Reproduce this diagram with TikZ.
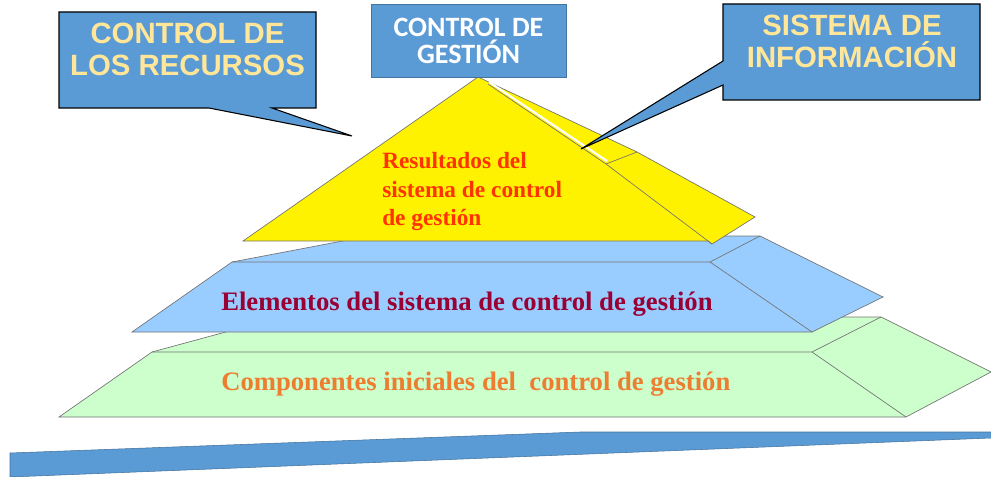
\documentclass[tikz,border=0pt]{standalone}
\usepackage{fontspec}
\setmainfont{Liberation Serif}
\setsansfont{Liberation Sans}
\newfontfamily\carlito{Carlito}
\usepackage{xcolor}
\definecolor{boxblue}{RGB}{91,155,213}
\definecolor{boxedge}{RGB}{65,113,156}
\definecolor{capyellow}{RGB}{255,230,153}
\definecolor{layerblue}{RGB}{153,204,255}
\definecolor{layergreen}{RGB}{204,255,204}
\definecolor{resred}{RGB}{255,51,0}
\definecolor{elemred}{RGB}{153,0,51}
\definecolor{comporange}{RGB}{237,125,49}
\tikzset{%
    face/.style={draw=black!55, line width=0.5pt},
    callout/.style={draw=black, fill=boxblue, line width=0.8pt},
    captext/.style={font=\sffamily\bfseries\fontsize{22}{24}\selectfont,
        text=capyellow, align=center, inner sep=0pt},
    layertext/.style={font=\bfseries\fontsize{20}{21.5}\selectfont, inner sep=0pt}
}
\begin{document}
\begin{tikzpicture}[x=0.75pt,y=-0.75pt]
    \useasboundingbox (0,0) rectangle (991,477);
%    base
    \draw[fill=boxblue, draw=boxedge] (10,453) -- (580,432) -- (991,432) -- (991,438) -- (10,477) -- cycle;
%    green layer
    \draw[face, fill=layergreen] (59,417) -- (152,352) -- (281,317) -- (881,317) -- (991,372) -- (906,417) -- cycle;
    \draw[face] (152,352) -- (812,352) -- (906,417);
    \draw[face] (812,352) -- (881,317);
%    blue layer
    \draw[face, fill=layerblue] (132,332) -- (232,262) -- (369,236) -- (760,236) -- (883,297) -- (812,332) -- cycle;
    \draw[face] (232,262) -- (710,262) -- (812,332);
    \draw[face] (710,262) -- (760,236);
%    yellow top
    \draw[face, fill=yellow] (478,77) -- (243,241) -- (708,241) -- (712,244) -- (755,217) -- (637,152) -- cycle;
    \draw[white, line width=1.6pt] (489,82) -- (607,161);
    \draw[face] (488,84) -- (606,164) -- (712,244);
    \draw[face] (606,164) -- (637,152);
%    callouts
    \draw[callout] (59,12) -- (316,12) -- (316,108) -- (272,108) -- (352,136) -- (209,108) -- (59,108) -- cycle;
    \draw[callout] (723,4) -- (980,4) -- (980,100) -- (723,100) -- (723,85) -- (581,149) -- (723,61) -- cycle;
    \draw[fill=boxblue, draw=boxblue!75!black, line width=0.6pt] (371,4) rectangle (566,77);
    \node[captext, anchor=north] (recursos) at (187.5,23) {CONTROL DE\\LOS RECURSOS};
    \node[captext, anchor=north] (informacion) at (852,15) {SISTEMA DE\\INFORMACIÓN};
    \node[font=\carlito\bfseries\fontsize{21}{20}\selectfont, text=white, align=center,
        inner sep=0pt, anchor=north] (gestion) at (468.5,18) {CONTROL DE\\GESTIÓN};
%    layer texts
    \node[layertext, text=resred, font=\bfseries\fontsize{17.5}{21.5}\selectfont,
        align=left, anchor=north west] (resultados) at (382,152)
        {Resultados del\\sistema de control\\de gestión};
    \node[layertext, text=elemred, anchor=base west] (elementos) at (221,310)
        {Elementos del sistema de control de gestión};
    \node[layertext, text=comporange, anchor=base west] (componentes) at (221,390)
        {Componentes iniciales del\ \ control de gestión};
\end{tikzpicture}
\end{document}
